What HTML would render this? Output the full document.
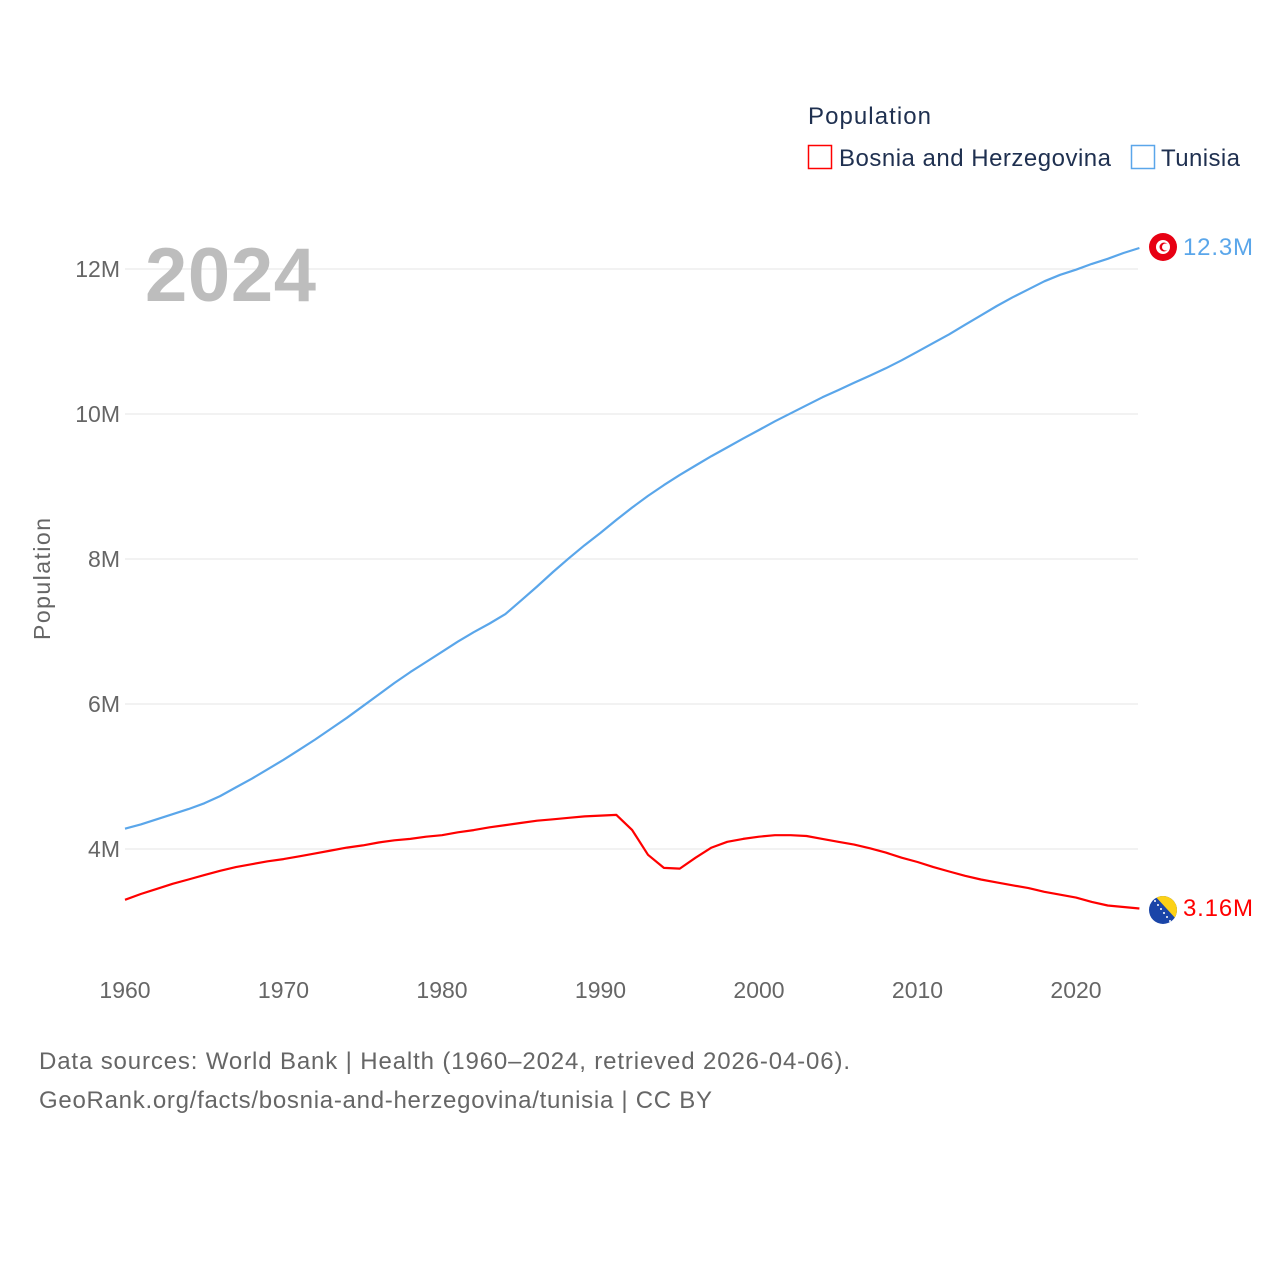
<!DOCTYPE html>
<html><head><meta charset="utf-8"><style>
body{margin:0;background:#fff;}
svg text{font-family:"Liberation Sans",sans-serif;}
</style></head><body>
<svg id="chart" width="1280" height="1280" viewBox="0 0 1280 1280" xmlns="http://www.w3.org/2000/svg">
<rect width="1280" height="1280" fill="#fff"/>
<g id="grid"></g>
<g id="yticks"></g>
<g id="xticks"></g>
<text x="145" y="301" font-size="76" font-weight="bold" fill="#bdbdbd" textLength="171">2024</text>
<text transform="translate(50,579) rotate(-90)" text-anchor="middle" font-size="23" fill="#666" textLength="122">Population</text>
<text x="808" y="124" font-size="24" fill="#1f3050" textLength="123">Population</text>
<g>
<rect x="808.5" y="145.5" width="23" height="23" fill="none" stroke="#f00" stroke-width="1.5"/>
<text x="839" y="166" font-size="24" fill="#1f3050" textLength="272">Bosnia and Herzegovina</text></g>
<g>
<rect x="1131.5" y="145.5" width="23" height="23" fill="none" stroke="#5aa6ea" stroke-width="1.5"/>
<text x="1161" y="166" font-size="24" fill="#1f3050" textLength="79">Tunisia</text></g>
<g id="lines"></g>
<g>
<circle cx="1163" cy="247" r="14" fill="#e70013"/>
<circle cx="1163" cy="247" r="7" fill="#fff"/>
<circle cx="1164" cy="247" r="4.5" fill="#e70013"/><circle cx="1165.5" cy="247" r="3.5" fill="#fff"/>
</g>
<g>
<clipPath id="bc"><circle cx="1163" cy="910" r="14"/></clipPath>
<g clip-path="url(#bc)"><rect x="1149" y="896" width="28" height="28" fill="#1a45a8"/>
<polygon points="1155,896 1177,896 1177,920" fill="#fcd116"/>
<g fill="#fff"><circle cx="1155" cy="901" r="1"/><circle cx="1158" cy="905" r="1"/><circle cx="1161" cy="909" r="1"/><circle cx="1164" cy="913" r="1"/><circle cx="1167" cy="917" r="1"/><circle cx="1170" cy="921" r="1"/></g></g>
</g>
<text x="1183" y="255" font-size="24" fill="#5aa6ea" textLength="70">12.3M</text>
<text x="1183" y="916" font-size="24" fill="#f00" textLength="70">3.16M</text>
<text x="39" y="1069" font-size="24" fill="#666" textLength="811">Data sources: World Bank | Health (1960–2024, retrieved 2026-04-06).</text>
<text x="39" y="1108" font-size="24" fill="#666" textLength="673">GeoRank.org/facts/bosnia-and-herzegovina/tunisia | CC BY</text>
</svg>
<script>
const startYear = 1960;
const yTickValues = [4,6,8,10,12];
const yTickLabels = ["4M","6M","8M","10M","12M"];
const xTickValues = [1960,1970,1980,1990,2000,2010,2020];
const tunisia = [4.28,4.34,4.41,4.48,4.55,4.63,4.73,4.85,4.97,5.10,5.23,5.37,5.51,5.66,5.81,5.97,6.13,6.29,6.44,6.58,6.72,6.86,6.99,7.11,7.24,7.43,7.62,7.82,8.01,8.19,8.36,8.54,8.71,8.87,9.02,9.16,9.29,9.42,9.54,9.66,9.78,9.90,10.01,10.12,10.23,10.33,10.43,10.53,10.63,10.74,10.86,10.98,11.10,11.23,11.36,11.49,11.61,11.72,11.83,11.92,11.99,12.07,12.14,12.22,12.29];
const bosnia = [3.30,3.38,3.45,3.52,3.58,3.64,3.70,3.75,3.79,3.83,3.86,3.90,3.94,3.98,4.02,4.05,4.09,4.12,4.14,4.17,4.19,4.23,4.26,4.30,4.33,4.36,4.39,4.41,4.43,4.45,4.46,4.47,4.26,3.92,3.74,3.73,3.88,4.02,4.10,4.14,4.17,4.19,4.19,4.18,4.14,4.10,4.06,4.01,3.95,3.88,3.82,3.75,3.69,3.63,3.58,3.54,3.50,3.46,3.41,3.37,3.33,3.27,3.22,3.20,3.18];
const NS="http://www.w3.org/2000/svg";
function x(yr){return 125+(yr-1960)*951/60;}
function y(v){return 849-(v-4)*72.5;}
function mk(tag,attrs,parent){const e=document.createElementNS(NS,tag);for(const k in attrs)e.setAttribute(k,attrs[k]);parent.appendChild(e);return e;}
const grid=document.getElementById('grid'),yt=document.getElementById('yticks'),xt=document.getElementById('xticks'),lines=document.getElementById('lines');
yTickValues.forEach((v,i)=>{
  const l=mk('line',{x1:125,x2:1138,y1:y(v),y2:y(v),stroke:'#e6e6e6','stroke-width':1},grid);
  
  
  const t=mk('text',{x:120,y:y(v)+8,'text-anchor':'end','font-size':23,fill:'#666'},yt);
  t.textContent=yTickLabels[i];
  
  
});
xTickValues.forEach(v=>{
  const t=mk('text',{x:x(v),y:998,'text-anchor':'middle','font-size':23,fill:'#666'},xt);
  t.textContent=String(v);
  
  
});
function path(arr){return arr.map((v,i)=>(i?'L':'M')+x(startYear+i).toFixed(1)+','+y(v).toFixed(1)).join(' ');}
const pt=mk('path',{d:path(tunisia),fill:'none',stroke:'#5aa6ea','stroke-width':2.2,'stroke-linejoin':'round'},lines);


const pb=mk('path',{d:path(bosnia),fill:'none',stroke:'#f00','stroke-width':2.2,'stroke-linejoin':'round'},lines);


</script>
</body></html>
